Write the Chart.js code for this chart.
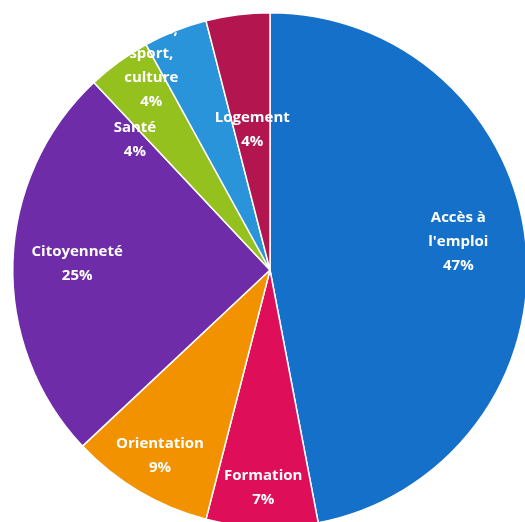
<!DOCTYPE html>
<html>
<head>
<meta charset="utf-8">
<script src="https://cdn.jsdelivr.net/npm/chart.js@4"></script>
<style>
  html, body { margin: 0; padding: 0; background: #fff; overflow: hidden; }
  #wrap { position: absolute; left: 0; top: 0; width: 540px; height: 540px; }
</style>
</head>
<body>
<div id="wrap"><canvas id="pie" width="540" height="540"></canvas></div>
<script>
// Data
const categories = [
  ['Accès à', "l'emploi"],
  ['Formation'],
  ['Orientation'],
  ['Citoyenneté'],
  ['Santé'],
  ['Loisirs,', 'sport,', 'culture'],
  ['Logement']
];
const shares = [47, 7, 9, 25, 4, 4, 4];

// Styles
const sliceColors = ['#1570c9', '#de0f58', '#f39200', '#6e2ca8', '#95c11f', '#2a94da', '#b3164f'];
// label placement: fraction of radius, angle shift in degrees
const labelRadius = [0.74, 0.845, 0.84, 0.75, 0.73, 0.92, 0.55];
const labelShift = [-3, 0, 0, 0, -10, -8.5, 0];

// Draws the white labels inside each slice
const sliceLabels = {
  id: 'sliceLabels',
  afterDatasetsDraw(chart) {
    const ctx = chart.ctx;
    const arcs = chart.getDatasetMeta(0).data;
    ctx.save();
    ctx.fillStyle = '#ffffff';
    ctx.font = 'bold 15px "Open Sans", sans-serif';
    ctx.textAlign = 'center';
    ctx.textBaseline = 'middle';
    arcs.forEach((arc, i) => {
      const p = arc.getProps(['x', 'y', 'startAngle', 'endAngle', 'outerRadius'], true);
      const mid = (p.startAngle + p.endAngle) / 2 + labelShift[i] * Math.PI / 180;
      const r = p.outerRadius * labelRadius[i];
      const cx = p.x + Math.cos(mid) * r;
      const cy = p.y + Math.sin(mid) * r;
      const lines = categories[i].concat([shares[i] + '%']);
      const lh = 24;
      const top = cy - (lines.length - 1) * lh / 2;
      lines.forEach((t, k) => ctx.fillText(t, cx, top + k * lh));
    });
    ctx.restore();
  }
};

new Chart(document.getElementById('pie'), {
  type: 'pie',
  data: {
    labels: categories.map(c => c.join(' ')),
    datasets: [{
      data: shares,
      backgroundColor: sliceColors,
      borderColor: '#ffffff',
      borderWidth: 1.5
    }]
  },
  options: {
    responsive: false,
    animation: false,
    layout: { padding: 12 },
    plugins: {
      legend: { display: false },
      tooltip: { enabled: false }
    }
  },
  plugins: [sliceLabels]
});
</script>
</body>
</html>
